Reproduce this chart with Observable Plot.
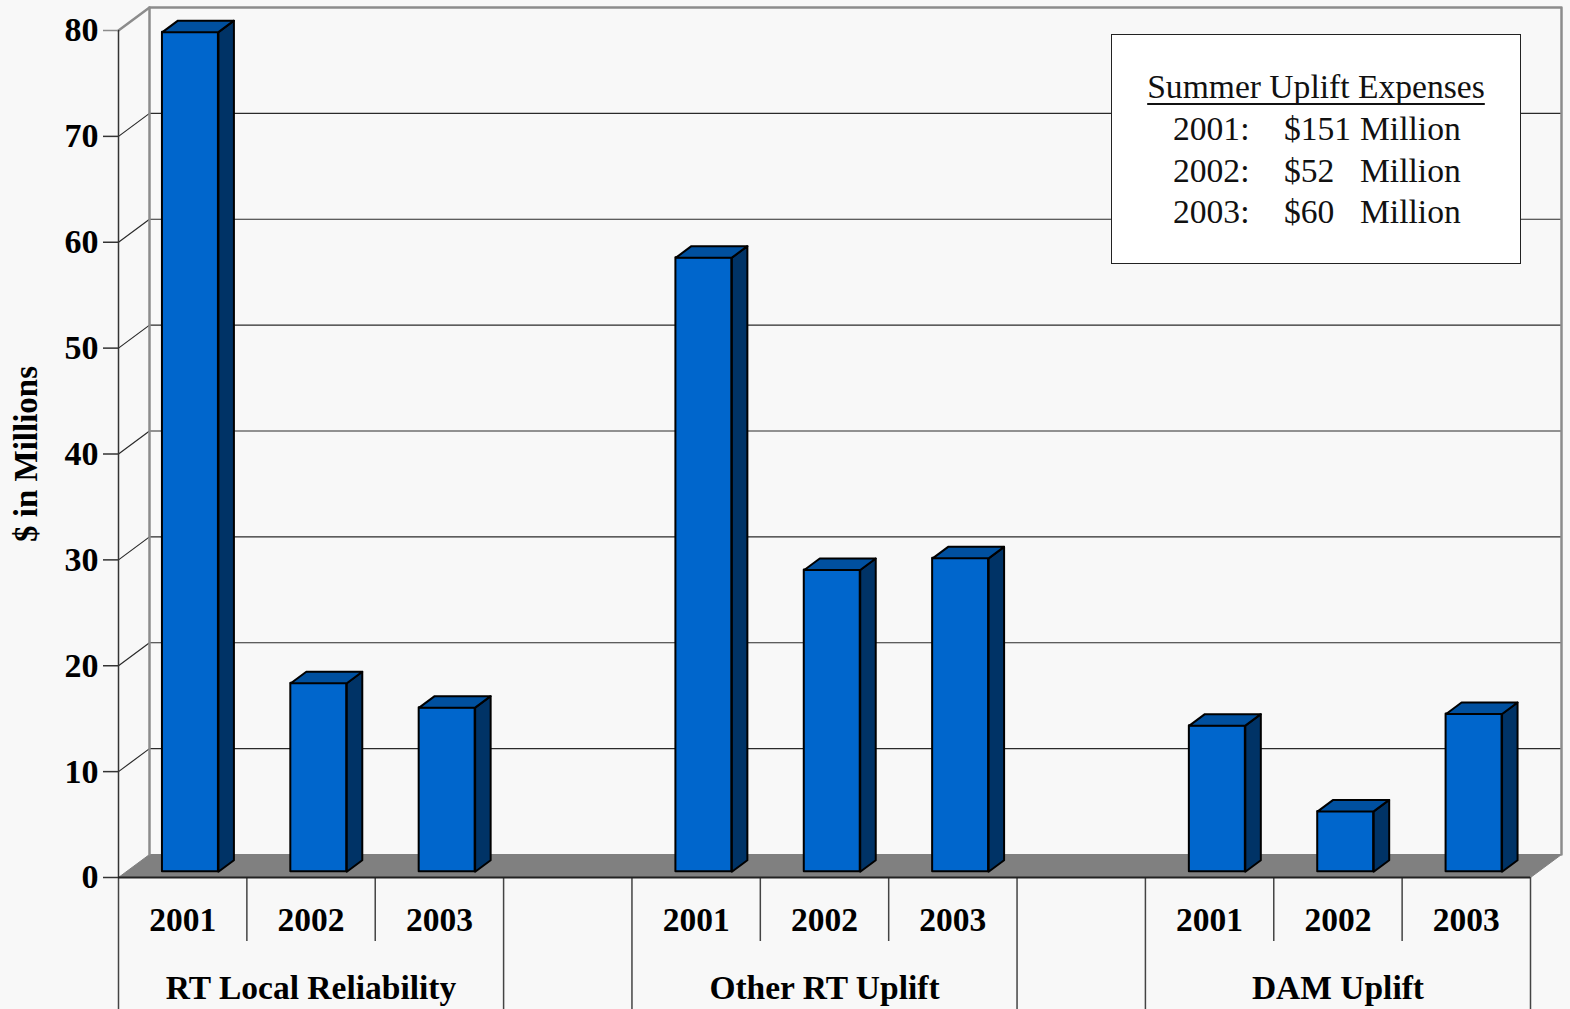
<!DOCTYPE html>
<html>
<head>
<meta charset="utf-8">
<script src="https://cdn.jsdelivr.net/npm/d3@7"></script>
<script src="https://cdn.jsdelivr.net/npm/@observablehq/plot@0.6"></script>
<style>
  html, body { margin: 0; padding: 0; background: #f8f8f8; }
  #wrap { position: relative; width: 1570px; height: 1009px; }
  #note {
    position: absolute; left: 1111px; top: 34px; width: 408px; height: 228px;
    background: #fff; border: 1.5px solid #222;
    font-family: "Liberation Serif", "Times New Roman", serif; font-size: 33.6px; color: #111;
  }
  #note div { position: absolute; line-height: 1; white-space: nowrap; }
  #note .title {
    left: 0; right: 0; text-align: center;
    text-decoration: underline; text-decoration-thickness: 2px;
    text-decoration-skip-ink: none; text-underline-offset: 5px;
  }
</style>
</head>
<body>
<div id="wrap"></div>
<script>
// Uplift expenses by category and summer ($ millions)
const groups = ["RT Local Reliability", "Other RT Uplift", "DAM Uplift"];
const years = ["2001", "2002", "2003"];
const rtLocalReliability = [79.3, 17.8, 15.5];
const otherRtUplift = [58.0, 28.5, 29.6];
const damUplift = [13.8, 5.7, 14.9];
const yTicks = [0, 10, 20, 30, 40, 50, 60, 70, 80];
const summerTotals = [151, 52, 60];

// Frame layout
const W = 1570, H = 1009;
const mL = 118, mR = 40, mT = 30, mB = 132;
const perGroup = years.length + 1;              // one blank slot between groups
const nSlots = groups.length * perGroup - 1;
const yMax = 80;
const pxX = (W - mL - mR) / nSlots;
const pxY = (H - mT - mB) / yMax;

// Oblique depth of the 3-D box, converted to data units
const dX = 31 / pxX, dY = 23 / pxY;
const barW = 0.436, barFront = 0.25, barDepth = 0.5;

const series = [rtLocalReliability, otherRtUplift, damUplift];
const bars = groups.flatMap((g, gi) =>
  years.map((yr, k) => ({group: g, year: yr, value: series[gi][k], slot: gi * perGroup + k}))
);

function geom(b) {
  const x0 = b.slot + (1 - barW) / 2 + barFront * dX;
  const y0 = barFront * dY;
  return {x0, x1: x0 + barW, y0, y1: b.value + y0, ex: barDepth * dX, ey: barDepth * dY};
}
const poly = (id, pts) => pts.map(([x, y]) => ({id, x, y}));

const fronts = bars.map(b => ({...b, ...geom(b)}));
const tops = bars.flatMap((b, i) => {
  const g = geom(b);
  return poly(i, [[g.x0, g.y1], [g.x1, g.y1], [g.x1 + g.ex, g.y1 + g.ey], [g.x0 + g.ex, g.y1 + g.ey], [g.x0, g.y1]]);
});
const sides = bars.flatMap((b, i) => {
  const g = geom(b);
  return poly(i, [[g.x1, g.y0], [g.x1 + g.ex, g.y0 + g.ey], [g.x1 + g.ex, g.y1 + g.ey], [g.x1, g.y1], [g.x1, g.y0]]);
});

// Back-wall gridlines, each with its short run across the side wall
const grid = yTicks.filter(v => v > 0 && v < yMax).flatMap(v =>
  poly(v, [[0, v], [dX, v + dY], [nSlots + dX, v + dY]])
);
const wallFrame = poly(0, [[dX, dY], [dX, yMax + dY], [nSlots + dX, yMax + dY], [nSlots + dX, dY]]);
const wallCorner = poly(1, [[0, yMax], [dX, yMax + dY]]);
const floor = poly(0, [[0, 0], [nSlots, 0], [nSlots + dX, dY], [dX, dY], [0, 0]]);

// Category axis dividers below the floor
const bounds = d3.range(nSlots + 1);
const isGroupEdge = s => s % perGroup === 0 || s % perGroup === years.length || s === nSlots;
const shortDrop = -64 / pxY, longDrop = -(mB) / pxY;

const chart = Plot.plot({
  width: W, height: H,
  marginLeft: mL, marginRight: mR, marginTop: mT, marginBottom: mB,
  x: {domain: [0, nSlots], axis: null},
  y: {domain: [0, yMax], axis: null},
  style: {
    background: "#f8f8f8", color: "#000",
    fontFamily: "'Liberation Serif', 'Times New Roman', serif",
    fontSize: "33.5px", fontWeight: "bold", overflow: "visible"
  },
  marks: [
    Plot.line(grid, {x: "x", y: "y", z: "id", stroke: "#2a2a2a", strokeWidth: 1.2}),
    Plot.line(floor, {x: "x", y: "y", fill: "#808080", stroke: "#808080", strokeWidth: 1}),
    Plot.line(wallFrame, {x: "x", y: "y", stroke: "#8c8c8c", strokeWidth: 2.5}),
    Plot.line(wallCorner, {x: "x", y: "y", stroke: "#8c8c8c", strokeWidth: 2.5}),
    Plot.rect(fronts, {x1: "x0", x2: "x1", y1: "y0", y2: "y1", fill: "#0066cc", stroke: "#000", strokeWidth: 2, strokeLinejoin: "round"}),
    Plot.line(sides, {x: "x", y: "y", z: "id", fill: "#003366", stroke: "#000", strokeWidth: 2, strokeLinejoin: "round"}),
    Plot.line(tops, {x: "x", y: "y", z: "id", fill: "#00509f", stroke: "#000", strokeWidth: 2, strokeLinejoin: "round"}),
    Plot.ruleX([0], {y1: 0, y2: yMax, stroke: "#333", strokeWidth: 1.5}),
    Plot.ruleX(bounds, {x: d => d, y1: 0, y2: d => isGroupEdge(d) ? longDrop : shortDrop, stroke: "#444", strokeWidth: 1.5}),
    Plot.ruleY([0], {x1: 0, x2: nSlots, stroke: "#222", strokeWidth: 2}),
    Plot.axisY(yTicks, {tickSize: 15, tickPadding: 5, fontSize: 34, fontWeight: "bold", stroke: d => d === yMax ? "#8c8c8c" : "#333", strokeWidth: 1.5, label: null}),
    Plot.text(bars, {x: d => d.slot + 0.5, y: () => 0, dy: 43, text: "year", fontSize: 33.5, fontWeight: "bold"}),
    Plot.text(groups, {x: (d, i) => i * perGroup + years.length / 2, y: () => 0, dy: 111, text: d => d, fontSize: 33.5, fontWeight: "bold"}),
    Plot.text(["$ in Millions"], {frameAnchor: "left", dx: -92, rotate: -90, textAnchor: "middle", text: d => d, fontSize: 33, fontWeight: "bold"})
  ]
});

const wrap = document.getElementById("wrap");
wrap.appendChild(chart);

// Text box with the summer totals
const note = document.createElement("div");
note.id = "note";
const title = document.createElement("div");
title.className = "title";
title.style.top = "35px";
title.textContent = "Summer Uplift Expenses";
note.appendChild(title);
years.forEach((yr, i) => {
  const top = 77 + i * 41.5;
  [[yr + ":", 61], ["$" + summerTotals[i], 172], ["Million", 248]].forEach(([t, left]) => {
    const s = document.createElement("div");
    s.style.left = left + "px";
    s.style.top = top + "px";
    s.textContent = t;
    note.appendChild(s);
  });
});
wrap.appendChild(note);
</script>
</body>
</html>
